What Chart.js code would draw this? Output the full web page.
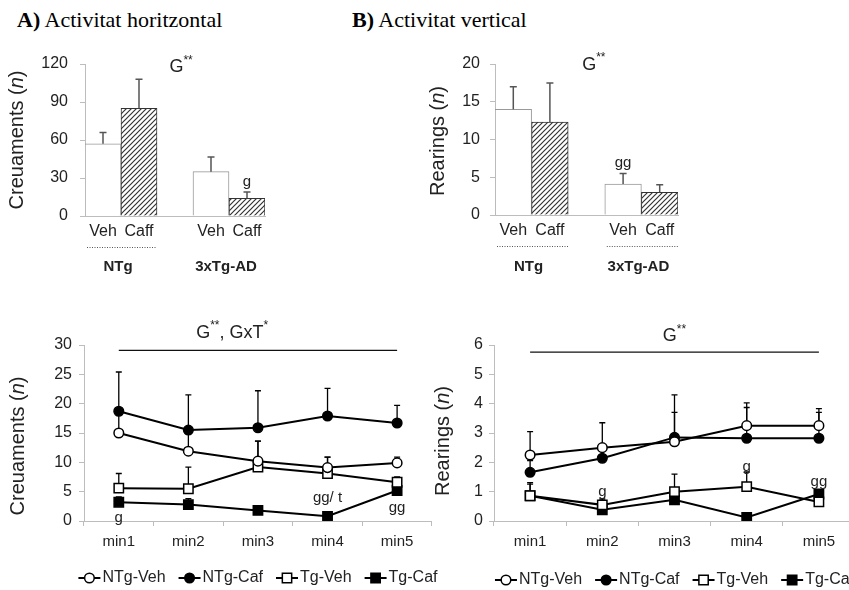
<!DOCTYPE html>
<html>
<head>
<meta charset="utf-8">
<script src="https://cdn.jsdelivr.net/npm/chart.js@4.4.1/dist/chart.umd.min.js"></script>
<style>
  html, body { margin: 0; padding: 0; background: #fff; }
  body { width: 849px; height: 590px; position: relative; overflow: hidden; }
  canvas { position: absolute; }
  .ttl { position: absolute; font-family: 'Liberation Serif', 'Times New Roman', serif; font-size: 22px; line-height: 24px; color: #000; white-space: nowrap; }
</style>
</head>
<body>
<div class="ttl" style="left:17px;top:8px"><b>A)</b> Activitat horitzontal</div>
<div class="ttl" style="left:352px;top:8px"><b>B)</b> Activitat vertical</div>
<canvas id="cA" width="300" height="290" style="left:0;top:0"></canvas>
<canvas id="cB" width="300" height="290" style="left:400px;top:0"></canvas>
<canvas id="cC" width="440" height="300" style="left:0;top:300px"></canvas>
<canvas id="cD" width="460" height="300" style="left:420px;top:300px"></canvas>
<script>
// ---- data ----
const barLabels = ['Veh', 'Caff', '', 'Veh', 'Caff'];
const crossMean = [57, 85, null, 35, 14];
const crossErr  = [9, 23, null, 11.5, 5];
const rearMean  = [14, 12.3, null, 4.1, 3];
const rearErr   = [3, 5.2, null, 1.4, 1];
const crossTicks = [0, 30, 60, 90, 120];
const rearTicks  = [0, 5, 10, 15, 20];

const minutes = ['min1', 'min2', 'min3', 'min4', 'min5'];
const seriesNames = ['NTg-Veh', 'NTg-Caf', 'Tg-Veh', 'Tg-Caf'];

// creuaments per minut
const cNtgVeh = [15, 11.9, 10.2, 9.1, 9.9];
const cNtgCaf = [18.7, 15.5, 15.9, 17.9, 16.7];
const cTgVeh  = [5.6, 5.5, 9.2, 8.1, 6.6];
const cTgCaf  = [3.2, 2.8, 1.8, 0.8, 5.2];
const cNtgVehErr = [4, 3, 3.4, 1.8, 1.0];
const cNtgCafErr = [6.7, 6, 6.3, 4.7, 3];
const cTgVehErr  = [2.5, 3.7, 4.4, 2.8, 0.9];
const cTgCafErr  = [0.9, 1, 0.5, 0.7, 0.4];
const cTicks = [0, 5, 10, 15, 20, 25, 30];

// rearings per minut
const rNtgVeh = [2.25, 2.5, 2.7, 3.25, 3.25];
const rNtgCaf = [1.66, 2.14, 2.85, 2.82, 2.82];
const rTgVeh  = [0.86, 0.55, 1.0, 1.17, 0.65];
const rTgCaf  = [0.86, 0.38, 0.72, 0.12, 0.92];
const rNtgVehErr = [0.8, 0.85, 1.0, 0.78, 0.58];
const rNtgCafErr = [0.4, 0.4, 1.45, 1.05, 0.88];
const rTgVehErr  = [0.45, 0.2, 0.6, 0.5, 0.2];
const rTgCafErr  = [0.4, 0.15, 0.4, 0.1, 0.15];
const rTicks = [0, 1, 2, 3, 4, 5, 6];

// ---- estil ----
const FONT = "'Liberation Sans', Arial, sans-serif";
const TXT = '#222';
const AXIS = '#bdbdbd';
Chart.defaults.font.family = FONT;
Chart.defaults.color = TXT;

function hatchFor(id) {
  const c = document.createElement('canvas');
  c.width = 5; c.height = 5;
  const g = c.getContext('2d');
  g.fillStyle = '#fff'; g.fillRect(0, 0, 5, 5);
  g.strokeStyle = '#333'; g.lineWidth = 1.2;
  g.beginPath();
  g.moveTo(0, 5); g.lineTo(5, 0);
  g.moveTo(-1, 1); g.lineTo(1, -1);
  g.moveTo(4, 6); g.lineTo(6, 4);
  g.stroke();
  return document.getElementById(id).getContext('2d').createPattern(c, 'repeat');
}

// barres d'error (nomes cap amunt)
function drawErr(chart, o) {
  const ctx = chart.ctx, ys = chart.scales.y;
  ctx.save();
  ctx.strokeStyle = o.color; ctx.lineWidth = o.width;
  chart.data.datasets.forEach((ds, di) => {
    if (!ds.err) return;
    chart.getDatasetMeta(di).data.forEach((el, i) => {
      const v = ds.data[i], e = ds.err[i];
      if (v == null || e == null) return;
      const x = el.x, y0 = ys.getPixelForValue(v), y1 = ys.getPixelForValue(v + e);
      ctx.beginPath();
      ctx.moveTo(x, y0); ctx.lineTo(x, y1);
      ctx.moveTo(x - o.cap / 2, y1); ctx.lineTo(x + o.cap / 2, y1);
      ctx.stroke();
    });
  });
  ctx.restore();
}
const errorBars = {
  id: 'errorBars',
  beforeDatasetsDraw(chart, args, o) { if (o.under) drawErr(chart, o); },
  afterDatasetsDraw(chart, args, o) { if (!o.under) drawErr(chart, o); }
};

// text amb superindexs: parts = [[text, sup?], ...]
function drawParts(ctx, parts, size, cx, cy) {
  const big = size + 'px ' + FONT, small = Math.round(size * 0.65) + 'px ' + FONT;
  let w = 0;
  parts.forEach(p => { ctx.font = p[1] ? small : big; w += ctx.measureText(p[0]).width; });
  let x = cx - w / 2;
  ctx.textAlign = 'left'; ctx.textBaseline = 'middle';
  parts.forEach(p => {
    ctx.font = p[1] ? small : big;
    ctx.fillText(p[0], x, p[1] ? cy - size * 0.38 : cy);
    x += ctx.measureText(p[0]).width;
  });
}
const notes = {
  id: 'notes',
  afterDraw(chart, args, o) {
    const ctx = chart.ctx, xs = chart.scales.x, ys = chart.scales.y;
    ctx.save();
    ctx.fillStyle = TXT;
    (o.items || []).forEach(n => {
      drawParts(ctx, n.parts, n.size || 15, xs.getPixelForValue(n.x), ys.getPixelForValue(n.y));
    });
    ctx.restore();
  }
};

// linia horitzontal de significacio
const spanLine = {
  id: 'spanLine',
  afterDraw(chart, args, o) {
    if (o.y == null) return;
    const ctx = chart.ctx, xs = chart.scales.x, ys = chart.scales.y;
    const y = ys.getPixelForValue(o.y);
    ctx.save();
    ctx.strokeStyle = '#111'; ctx.lineWidth = 1.3;
    ctx.beginPath();
    ctx.moveTo(xs.getPixelForValue(o.from), y);
    ctx.lineTo(xs.getPixelForValue(o.to), y);
    ctx.stroke();
    ctx.restore();
  }
};

// titol de l'eix Y amb "n" en cursiva
const yTitle = {
  id: 'yTitle',
  afterDraw(chart, args, o) {
    const ctx = chart.ctx;
    const fonts = o.parts.map(p => (p[1] ? 'italic ' : '') + o.size + 'px ' + FONT);
    let w = 0;
    o.parts.forEach((p, i) => { ctx.font = fonts[i]; w += ctx.measureText(p[0]).width; });
    ctx.save();
    ctx.translate(o.x, o.y);
    ctx.rotate(-Math.PI / 2);
    ctx.fillStyle = TXT; ctx.textAlign = 'left'; ctx.textBaseline = 'middle';
    let x = -w / 2;
    o.parts.forEach((p, i) => {
      ctx.font = fonts[i];
      ctx.fillText(p[0], x, 0);
      x += ctx.measureText(p[0]).width;
    });
    ctx.restore();
  }
};

// etiquetes de grup sota les barres
const groups = {
  id: 'groups',
  afterDraw(chart, args, o) {
    if (!o.items) return;
    const ctx = chart.ctx, els = chart.getDatasetMeta(0).data, b = chart.chartArea.bottom;
    ctx.save();
    o.items.forEach(g => {
      const l = els[g.from].x - els[g.from].width / 2, r = els[g.to].x + els[g.to].width / 2;
      if (g.dotted) {
        ctx.strokeStyle = '#555'; ctx.lineWidth = 1; ctx.setLineDash([1, 1.5]);
        ctx.beginPath(); ctx.moveTo(l + 2, b + o.lineDy + 0.5); ctx.lineTo(r, b + o.lineDy + 0.5); ctx.stroke();
      }
      ctx.setLineDash([]);
      ctx.fillStyle = TXT; ctx.font = 'bold 15px ' + FONT;
      ctx.textAlign = 'center'; ctx.textBaseline = 'middle';
      ctx.fillText(g.text, (l + r) / 2 + (o.dx || 0), b + o.labelDy);
    });
    ctx.restore();
  }
};

// llegenda: -o- nom
function marker(ctx, ds, x, y) {
  ctx.lineWidth = ds.pointBorderWidth;
  ctx.strokeStyle = ds.pointBorderColor;
  ctx.fillStyle = ds.pointBackgroundColor;
  ctx.beginPath();
  if (ds.pointStyle === 'rect') {
    const s = ds.pointRadius * Math.SQRT1_2;
    ctx.rect(x - s, y - s, 2 * s, 2 * s);
  } else {
    ctx.arc(x, y, ds.pointRadius, 0, Math.PI * 2);
  }
  ctx.fill(); ctx.stroke();
}
const seriesLegend = {
  id: 'seriesLegend',
  afterDraw(chart, args, o) {
    const ctx = chart.ctx, ca = chart.chartArea;
    const sym = 22, gapT = 2, gapI = 13;
    ctx.save();
    ctx.font = '16px ' + FONT;
    const widths = chart.data.datasets.map(ds => ctx.measureText(ds.label).width);
    const total = widths.reduce((a, w) => a + sym + gapT + w, 0) + gapI * (widths.length - 1);
    let x = (ca.left + ca.right) / 2 - total / 2 + (o.dx || 0);
    const y = ca.bottom + o.dy;
    chart.data.datasets.forEach((ds, i) => {
      ctx.strokeStyle = '#000'; ctx.lineWidth = 2;
      ctx.beginPath(); ctx.moveTo(x, y); ctx.lineTo(x + sym, y); ctx.stroke();
      marker(ctx, ds, x + sym / 2, y);
      ctx.fillStyle = TXT; ctx.textAlign = 'left'; ctx.textBaseline = 'middle';
      ctx.font = '16px ' + FONT;
      ctx.fillText(ds.label, x + sym + gapT, y);
      x += sym + gapT + widths[i] + gapI;
    });
    ctx.restore();
  }
};

function makeBar(id, mean, err, ticks, yMax, o) {
  const hatch = hatchFor(id);
  return new Chart(document.getElementById(id), {
    type: 'bar',
    data: {
      labels: barLabels,
      datasets: [{
        data: mean,
        err: err,
        backgroundColor: ['#fff', hatch, '#fff', '#fff', hatch],
        borderColor: ['#999', '#333', '#999', '#999', '#333'],
        borderWidth: 1,
        categoryPercentage: 1,
        barPercentage: 1
      }]
    },
    options: {
      responsive: false,
      animation: false,
      layout: { padding: o.padding },
      scales: {
        x: {
          grid: { display: false, drawTicks: false },
          border: { color: AXIS },
          ticks: { font: { size: 16 }, padding: 6, color: TXT },
          afterFit: s => { s.height = o.xH; }
        },
        y: {
          min: 0, max: yMax,
          afterBuildTicks: s => { s.ticks = ticks.map(v => ({ value: v })); },
          grid: { drawOnChartArea: false, tickLength: 5, color: AXIS },
          border: { color: AXIS },
          ticks: { font: { size: 16 }, padding: o.yPad, color: TXT },
          afterFit: s => { s.width = o.yW; }
        }
      },
      plugins: {
        legend: { display: false },
        tooltip: { enabled: false },
        errorBars: { color: '#555', width: 1.5, cap: 7, under: false },
        notes: { items: o.notes },
        yTitle: o.title,
        groups: o.groups
      }
    },
    plugins: [errorBars, notes, yTitle, groups]
  });
}

const styles = [
  { pointStyle: 'circle', pointRadius: 4.8, pointBackgroundColor: '#fff' },
  { pointStyle: 'circle', pointRadius: 4.8, pointBackgroundColor: '#000' },
  { pointStyle: 'rect', pointRadius: 6.6, pointBackgroundColor: '#fff' },
  { pointStyle: 'rect', pointRadius: 6.6, pointBackgroundColor: '#000' }
];

function makeLine(id, series, errs, ticks, yMax, o) {
  return new Chart(document.getElementById(id), {
    type: 'line',
    data: {
      labels: minutes,
      datasets: series.map((d, i) => Object.assign({
        label: seriesNames[i],
        data: d,
        err: errs[i],
        borderColor: '#000',
        borderWidth: 2,
        pointBorderColor: '#000',
        pointBorderWidth: 1.5,
        tension: 0,
        fill: false
      }, styles[i]))
    },
    options: {
      responsive: false,
      animation: false,
      layout: { padding: o.padding },
      scales: {
        x: {
          offset: true,
          grid: { display: true, offset: true, drawOnChartArea: false, drawTicks: true, tickLength: 5, color: AXIS },
          border: { color: AXIS },
          ticks: { font: { size: 15 }, padding: 7, color: TXT },
          afterFit: s => { s.height = o.xH; }
        },
        y: {
          min: 0, max: yMax,
          afterBuildTicks: s => { s.ticks = ticks.map(v => ({ value: v })); },
          grid: { drawOnChartArea: false, tickLength: 5, color: AXIS },
          border: { color: AXIS },
          ticks: { font: { size: 16 }, padding: o.yPad, color: TXT },
          afterFit: s => { s.width = o.yW; }
        }
      },
      plugins: {
        legend: { display: false },
        tooltip: { enabled: false },
        errorBars: { color: '#000', width: 1.3, cap: 6, under: true },
        notes: { items: o.notes },
        spanLine: o.span,
        yTitle: o.title,
        seriesLegend: { dy: o.legendDy }
      }
    },
    plugins: [errorBars, notes, spanLine, yTitle, seriesLegend]
  });
}

const G2 = [['G'], ['**', 1]];

makeBar('cA', crossMean, crossErr, crossTicks, 120, {
  padding: { top: 64, right: 35, bottom: 0, left: 0 },
  xH: 74, yW: 85, yPad: 12,
  title: { x: 17, y: 140, size: 20, parts: [['Creuaments ('], ['n', 1], [')']] },
  notes: [
    { x: 2.17, y: 117.6, parts: G2, size: 18 },
    { x: 4, y: 26.8, parts: [['g']], size: 15 }
  ],
  groups: { lineDy: 31, labelDy: 51, dx: -3, items: [
    { from: 0, to: 1, text: 'NTg', dotted: true },
    { from: 3, to: 4, text: '3xTg-AD', dotted: false }
  ] }
});

makeBar('cB', rearMean, rearErr, rearTicks, 20, {
  padding: { top: 64, right: 22, bottom: 0, left: 0 },
  xH: 75, yW: 95, yPad: 10,
  title: { x: 38, y: 141, size: 20, parts: [['Rearings ('], ['n', 1], [')']] },
  notes: [
    { x: 2.2, y: 19.9, parts: G2, size: 18 },
    { x: 3, y: 6.9, parts: [['gg']], size: 15 }
  ],
  groups: { lineDy: 31, labelDy: 52, dx: -3, items: [
    { from: 0, to: 1, text: 'NTg', dotted: true },
    { from: 3, to: 4, text: '3xTg-AD', dotted: true }
  ] }
});

makeLine('cC', [cNtgVeh, cNtgCaf, cTgVeh, cTgCaf], [cNtgVehErr, cNtgCafErr, cTgVehErr, cTgCafErr], cTicks, 30, {
  padding: { top: 45, right: 6, bottom: 44, left: 0 },
  xH: 35, yW: 84, yPad: 7, legendDy: 57,
  title: { x: 18, y: 146, size: 20, parts: [['Creuaments ('], ['n', 1], [')']] },
  span: { from: 0, to: 4, y: 29.1 },
  notes: [
    { x: 1.63, y: 32.1, parts: [['G'], ['**', 1], [', GxT'], ['*', 1]], size: 18 },
    { x: 0, y: 0.6, parts: [['g']], size: 15 },
    { x: 3, y: 3.9, parts: [['gg/ t']], size: 15 },
    { x: 4, y: 2.2, parts: [['gg']], size: 15 }
  ]
});

makeLine('cD', [rNtgVeh, rNtgCaf, rTgVeh, rTgCaf], [rNtgVehErr, rNtgCafErr, rTgVehErr, rTgCafErr], rTicks, 6, {
  padding: { top: 45, right: 25, bottom: 42, left: 0 },
  xH: 37, yW: 74, yPad: 6, legendDy: 59,
  title: { x: 23, y: 141, size: 20, parts: [['Rearings ('], ['n', 1], [')']] },
  span: { from: 0, to: 4, y: 5.76 },
  notes: [
    { x: 2, y: 6.3, parts: G2, size: 18 },
    { x: 1, y: 1.0, parts: [['g']], size: 15 },
    { x: 3, y: 1.86, parts: [['g']], size: 15 },
    { x: 4, y: 1.32, parts: [['gg']], size: 15 }
  ]
});
</script>
</body>
</html>
